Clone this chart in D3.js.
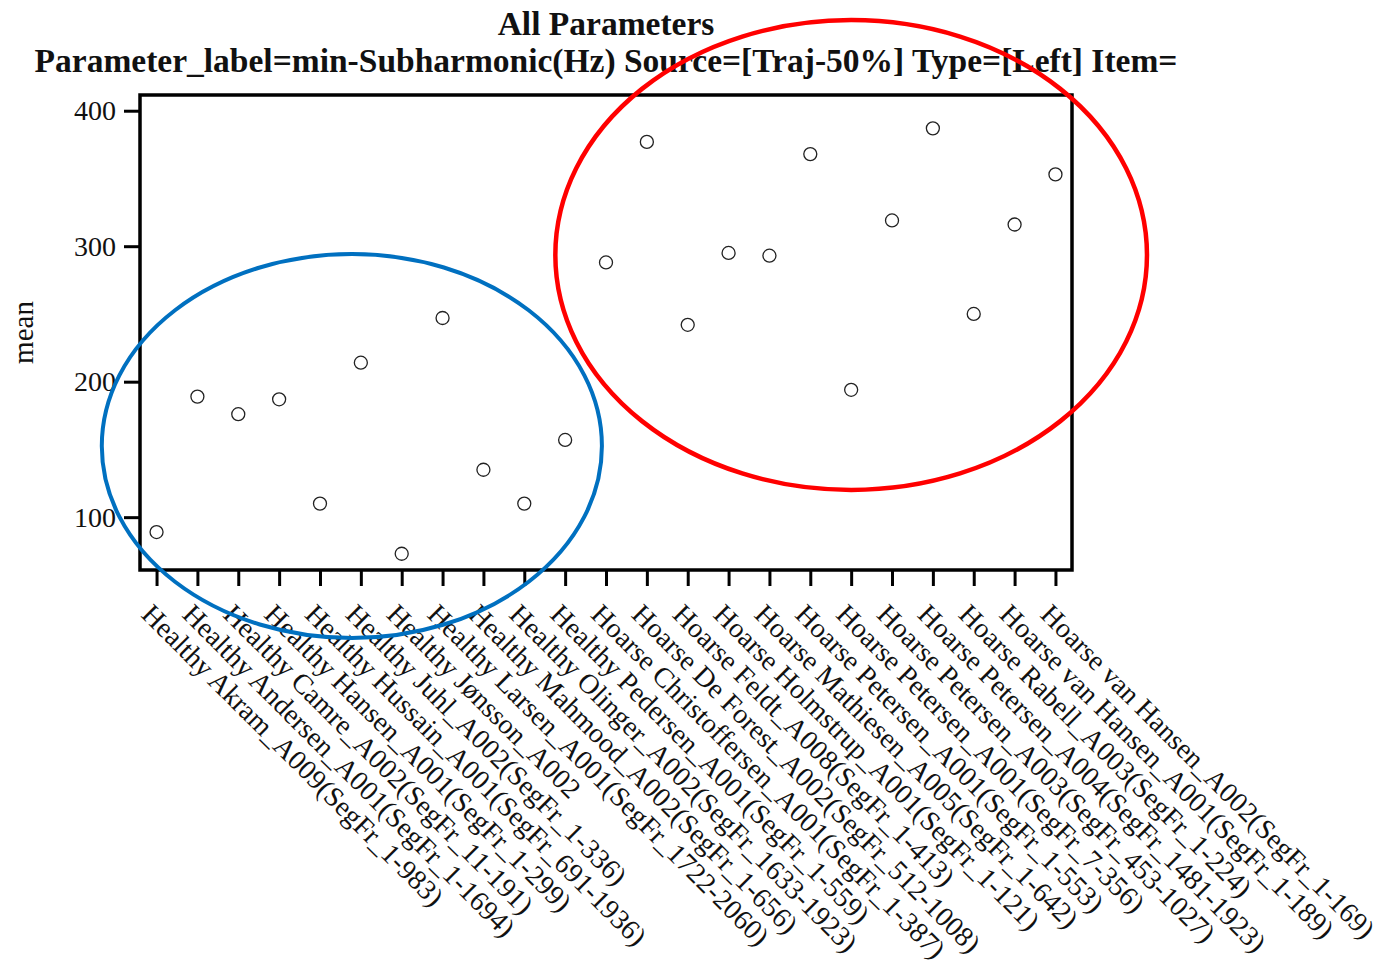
<!DOCTYPE html>
<html>
<head>
<meta charset="utf-8">
<script src="https://cdn.jsdelivr.net/npm/d3@7"></script>
<style>
  html, body { margin: 0; padding: 0; background: #fff; }
  svg { display: block; font-family: "Liberation Serif", "Times New Roman", serif; }
</style>
</head>
<body>
<svg id="chart" width="1376" height="962"></svg>
<script>
// Recordings (speaker + item + frame segment), in plotting order
const categories = [
  "Healthy Akram_A009(SegFr_1-983)",
  "Healthy Andersen_A001(SegFr_1-1694)",
  "Healthy Camre_A002(SegFr_11-191)",
  "Healthy Hansen_A001(SegFr_1-299)",
  "Healthy Hussain_A001(SegFr_691-1936)",
  "Healthy Juhl_A002(SegFr_1-336)",
  "Healthy Jønsson_A002",
  "Healthy Larsen_A001(SegFr_1722-2060)",
  "Healthy Mahmood_A002(SegFr_1-656)",
  "Healthy Olinger_A002(SegFr_1633-1923)",
  "Healthy Pedersen_A001(SegFr_1-559)",
  "Hoarse Christoffersen_A001(SegFr_1-387)",
  "Hoarse De Forest_A002(SegFr_512-1008)",
  "Hoarse Feldt_A008(SegFr_1-413)",
  "Hoarse Holmstrup_A001(SegFr_1-121)",
  "Hoarse Mathiesen_A005(SegFr_1-642)",
  "Hoarse Petersen_A001(SegFr_1-553)",
  "Hoarse Petersen_A001(SegFr_7-356)",
  "Hoarse Petersen_A003(SegFr_453-1027)",
  "Hoarse Petersen_A004(SegFr_1481-1923)",
  "Hoarse Rabell_A003(SegFr_1-224)",
  "Hoarse van Hansen_A001(SegFr_1-189)",
  "Hoarse van Hansen_A002(SegFr_1-169)"
];

// Mean of min-Subharmonic (Hz) per recording
const means = [
  89, 189, 176, 187, 110, 214, 73, 247, 135, 110, 157,
  288, 377, 242, 295, 293, 368, 194, 319, 387, 250, 316, 353
];

const yTicks = [100, 200, 300, 400];
const yDomain = [61, 411.6];

const titleLines = [
  "All Parameters",
  "Parameter_label=min-Subharmonic(Hz) Source=[Traj-50%] Type=[Left] Item="
];
const yLabel = "mean";

// Group highlight rings: centre in (category index, value), half sizes in steps / value units
const groupRings = [
  { group: "Healthy", centerIndex: 4.78, centerValue: 152.5, halfSteps: 6.12, halfValue: 141.7, color: "#0070c0", width: 4 },
  { group: "Hoarse",  centerIndex: 17.0, centerValue: 293.5, halfSteps: 7.24, halfValue: 173.4, color: "#ff0000", width: 4.5 }
];

const svg = d3.select("#chart");
const plot = { left: 140, right: 1072, top: 95, bottom: 570 };

const x = d3.scalePoint().domain(categories).range([plot.left, plot.right]).padding(0.405);
const y = d3.scaleLinear().domain(yDomain).range([plot.bottom, plot.top]);

// Titles
svg.selectAll("text.title").data(titleLines).join("text")
  .attr("class", "title")
  .attr("x", (plot.left + plot.right) / 2)
  .attr("y", (d, i) => i === 0 ? 35 : 72)
  .attr("text-anchor", "middle")
  .attr("font-weight", "bold")
  .attr("font-size", 33.5)
  .attr("fill", "#111")
  .text(d => d);

// Y axis
const yAxis = svg.append("g")
  .attr("transform", `translate(${plot.left},0)`)
  .call(d3.axisLeft(y).tickValues(yTicks).tickSize(16).tickPadding(8).tickFormat(d3.format("d")));
yAxis.select(".domain").remove();
yAxis.selectAll(".tick line").attr("stroke", "#000").attr("stroke-width", 3);
yAxis.selectAll(".tick text")
  .attr("font-size", 28).attr("font-family", "Liberation Serif, serif").attr("fill", "#111");

// X axis with diagonal labels
const xAxis = svg.append("g")
  .attr("transform", `translate(0,${plot.bottom})`)
  .call(d3.axisBottom(x).tickSize(16));
xAxis.select(".domain").remove();
xAxis.selectAll(".tick line").attr("stroke", "#000").attr("stroke-width", 3);
xAxis.selectAll(".tick text")
  .attr("x", 0).attr("y", 0).attr("dy", 0)
  .attr("text-anchor", "start")
  .attr("transform", "translate(-17,46) rotate(45)")
  .attr("font-size", 28).attr("font-family", "Liberation Serif, serif").attr("fill", "#111");

// Plot frame
svg.append("rect")
  .attr("x", plot.left).attr("y", plot.top)
  .attr("width", plot.right - plot.left).attr("height", plot.bottom - plot.top)
  .attr("fill", "none").attr("stroke", "#000").attr("stroke-width", 3.5);

// Y axis title
svg.append("text")
  .attr("transform", `translate(33,${(plot.top + plot.bottom) / 2}) rotate(-90)`)
  .attr("text-anchor", "middle")
  .attr("font-size", 29)
  .attr("fill", "#111")
  .text(yLabel);

// Points
svg.append("g").selectAll("circle").data(categories).join("circle")
  .attr("cx", d => x(d))
  .attr("cy", (d, i) => y(means[i]))
  .attr("r", 6.5)
  .attr("fill", "none")
  .attr("stroke", "#222")
  .attr("stroke-width", 1.3);

// Group rings
const step = x.step();
const x0 = x(categories[0]);
svg.append("g").selectAll("ellipse").data(groupRings).join("ellipse")
  .attr("cx", d => x0 + d.centerIndex * step)
  .attr("cy", d => y(d.centerValue))
  .attr("rx", d => d.halfSteps * step)
  .attr("ry", d => y(yDomain[0]) - y(yDomain[0] + d.halfValue))
  .attr("fill", "none")
  .attr("stroke", d => d.color)
  .attr("stroke-width", d => d.width);
</script>
</body>
</html>
